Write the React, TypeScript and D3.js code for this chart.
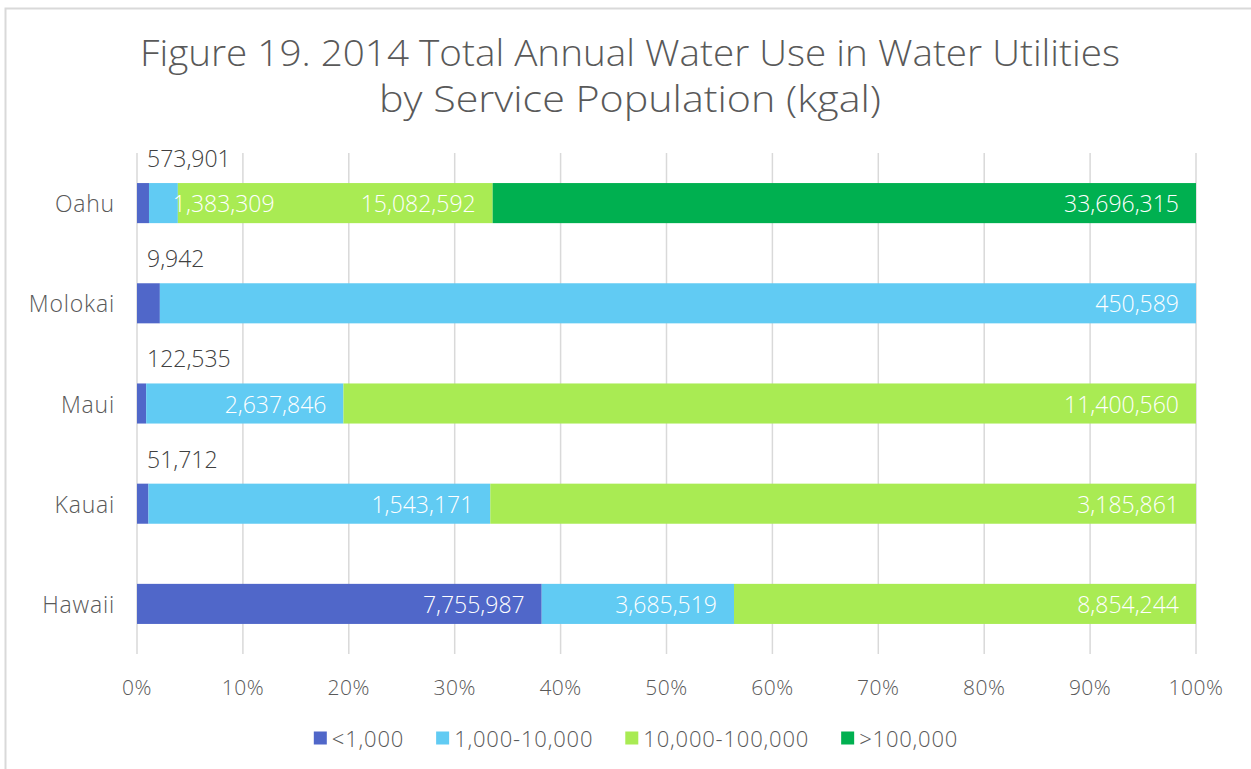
import React, { useEffect, useRef } from "react";
import * as d3 from "d3";

const islands = ["Oahu", "Molokai", "Maui", "Kauai", "Hawaii"];
const seriesNames = ["<1,000", "1,000-10,000", "10,000-100,000", ">100,000"];
const seriesColors = ["#5067C9", "#61CBF3", "#A9EB53", "#00B050"];
const lessThan1k = [573901, 9942, 122535, 51712, 7755987];
const from1kTo10k = [1383309, 450589, 2637846, 1543171, 3685519];
const from10kTo100k = [15082592, 0, 11400560, 3185861, 8854244];
const over100k = [33696315, 0, 0, 0, 0];
const tickValues = [0, 0.1, 0.2, 0.3, 0.4, 0.5, 0.6, 0.7, 0.8, 0.9, 1.0];
const titleLines = [
  "Figure 19. 2014 Total Annual Water Use in Water Utilities",
  "by Service Population (kgal)",
];

const FONT = "'Open Sans', 'Noto Sans', sans-serif";
const TEXT = "#595959";

export default function App() {
  const ref = useRef<SVGSVGElement | null>(null);

  useEffect(() => {
    const svg = d3.select(ref.current);
    svg.selectAll("*").remove();
    const W = 1251, H = 769;
    const margin = { left: 137, right: 55, top: 153, bottom: 115 };
    const seriesData = [lessThan1k, from1kTo10k, from10kTo100k, over100k];

    // border
    svg.append("rect").attr("x", 5.5).attr("y", 8.5).attr("width", W + 20).attr("height", H + 20)
      .attr("fill", "#fff").attr("stroke", "#D9D9D9").attr("stroke-width", 2);

    // title
    const titleY = [66, 112];
    const titleLen = [980, 502];
    titleLines.forEach((t, i) => {
      svg.append("text").attr("x", 630).attr("y", titleY[i]).attr("text-anchor", "middle")
        .attr("font-family", FONT).attr("font-size", 36).attr("font-weight", 300).attr("fill", TEXT)
        .attr("textLength", titleLen[i]).attr("lengthAdjust", "spacingAndGlyphs").text(t);
    });

    const x = d3.scaleLinear().domain([0, 1]).range([margin.left, W - margin.right]);
    const y = d3.scaleBand().domain(islands).range([margin.top, H - margin.bottom]).paddingInner(0.6).paddingOuter(0.3);

    // grid
    svg.append("g").selectAll("line").data(tickValues).join("line")
      .attr("x1", (d) => x(d)).attr("x2", (d) => x(d))
      .attr("y1", margin.top).attr("y2", H - margin.bottom)
      .attr("stroke", "#D9D9D9").attr("stroke-width", 1.5);

    // tick labels
    svg.append("g").selectAll("text").data(tickValues).join("text")
      .attr("x", (d) => x(d)).attr("y", 695).attr("text-anchor", "middle")
      .attr("font-family", FONT).attr("font-size", 21).attr("font-weight", 300).attr("fill", TEXT)
      .attr("letter-spacing", 0.5)
      .text((d) => d3.format(".0%")(d));

    // category labels
    svg.append("g").selectAll("text").data(islands).join("text")
      .attr("x", 115).attr("y", (d) => (y(d) as number) + y.bandwidth() / 2)
      .attr("dominant-baseline", "central").attr("text-anchor", "end")
      .attr("font-family", FONT).attr("font-size", 23).attr("font-weight", 300)
      .attr("letter-spacing", 0.8).attr("fill", TEXT).text((d) => d);

    const rows = islands.map((isl, i) => {
      const vals = seriesData.map((s) => s[i]);
      const total = d3.sum(vals);
      let cum = 0;
      return vals.map((v, k) => {
        const start = cum / total;
        cum += v;
        return { island: isl, k, v, start, end: cum / total };
      });
    });
    const segs = rows.flat().filter((s) => s.v > 0);

    svg.append("g").selectAll("rect").data(segs).join("rect")
      .attr("x", (d) => x(d.start)).attr("width", (d) => x(d.end) - x(d.start))
      .attr("y", (d) => y(d.island) as number).attr("height", y.bandwidth())
      .attr("fill", (d) => seriesColors[d.k]);

    const fmt = d3.format(",");
    const lbl = svg.append("g");
    segs.forEach((d) => {
      const t = lbl.append("text").attr("font-family", FONT).attr("font-size", 23)
        .attr("font-weight", 300).text(fmt(d.v));
      const tw = (t.node() as SVGTextElement).getComputedTextLength();
      const segW = x(d.end) - x(d.start);
      const cy = (y(d.island) as number) + y.bandwidth() / 2;
      if (segW >= tw + 22) {
        t.attr("x", x(d.end) - 17).attr("y", cy).attr("dominant-baseline", "central")
          .attr("text-anchor", "end").attr("fill", "#fff");
      } else if (d.k === 0) {
        t.attr("x", x(0) + 10).attr("y", (y(d.island) as number) - 16)
          .attr("text-anchor", "start").attr("fill", "#404040");
      } else {
        t.attr("x", x(d.end) - 5).attr("y", cy).attr("dominant-baseline", "central")
          .attr("text-anchor", "start").attr("fill", "#fff");
      }
    });

    // legend
    const lg = svg.append("g");
    const items = seriesNames.map((n, i) => {
      const g = lg.append("g");
      g.append("rect").attr("x", 0).attr("y", -6.5).attr("width", 13).attr("height", 13).attr("fill", seriesColors[i]);
      const t = g.append("text").attr("x", 18).attr("y", 0).attr("dominant-baseline", "central")
        .attr("font-family", FONT).attr("font-size", 22).attr("font-weight", 300)
        .attr("letter-spacing", 0.8).attr("fill", TEXT).text(n);
      const w = 18 + (t.node() as SVGTextElement).getComputedTextLength();
      return { g, w };
    });
    const gap = 32;
    const total = d3.sum(items, (d) => d.w) + gap * (items.length - 1);
    let cx = 636 - total / 2;
    items.forEach((it) => {
      it.g.attr("transform", `translate(${cx},738)`);
      cx += it.w + gap;
    });
  }, []);

  return (
    <svg ref={ref} width={1251} height={769}
      style={{ position: "absolute", left: 0, top: 0, background: "#fff" }} />
  );
}
